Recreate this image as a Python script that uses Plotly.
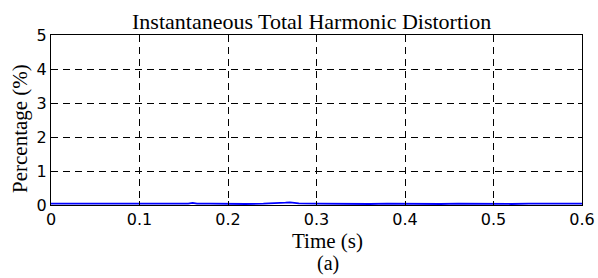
import plotly.graph_objects as go

time_s = [0.00, 0.02, 0.04, 0.06, 0.08, 0.10, 0.12, 0.14, 0.155, 0.16, 0.165, 0.18, 0.20, 0.22, 0.24, 0.26, 0.265, 0.27, 0.275, 0.28, 0.30, 0.32, 0.34, 0.36, 0.38, 0.40, 0.42, 0.44, 0.46, 0.48, 0.50, 0.52, 0.54, 0.56, 0.58, 0.60]
thd_pct = [0.04, 0.04, 0.03, 0.04, 0.03, 0.04, 0.03, 0.04, 0.04, 0.06, 0.04, 0.04, 0.03, 0.03, 0.04, 0.05, 0.07, 0.08, 0.06, 0.05, 0.04, 0.03, 0.04, 0.03, 0.04, 0.03, 0.04, 0.03, 0.04, 0.03, 0.04, 0.03, 0.04, 0.03, 0.04, 0.04]

x_ticks = [0, 0.1, 0.2, 0.3, 0.4, 0.5, 0.6]
x_tick_labels = ["0", "0.1", "0.2", "0.3", "0.4", "0.5", "0.6"]
y_ticks = [0, 1, 2, 3, 4, 5]
y_tick_labels = ["0", "1", "2", "3", "4", "5"]

W, H = 598, 278
L, R, T, B = 51, 16, 35, 73

serif = "Liberation Serif, Times New Roman, serif"
sans = "DejaVu Sans, Arial, sans-serif"

fig = go.Figure()
fig.add_trace(go.Scatter(x=time_s, y=thd_pct, mode="lines",
                         line=dict(color="#0000ff", width=1.8), showlegend=False))

axis_common = dict(showline=True, linecolor="black", linewidth=1.2, mirror="ticks",
                   ticks="inside", ticklen=4, tickcolor="black",
                   showgrid=True, gridcolor="black", griddash="7px,5px", gridwidth=1,
                   zeroline=False, automargin=False,
                   tickfont=dict(family=sans, size=16, color="black"))

fig.update_xaxes(range=[0, 0.6], tickvals=x_ticks, ticktext=x_tick_labels, **axis_common)
fig.update_yaxes(range=[0, 5], tickvals=y_ticks, ticktext=y_tick_labels, **axis_common)

PW = W - L - R
PH = H - T - B

fig.update_layout(
    width=W, height=H,
    margin=dict(l=L, r=R, t=T, b=B, autoexpand=False),
    paper_bgcolor="white", plot_bgcolor="white",
    annotations=[
        dict(text="Instantaneous Total Harmonic Distortion", xref="paper", yref="paper",
             x=(311 - L) / PW, y=(H - B - 21) / PH, xanchor="center", yanchor="middle",
             showarrow=False, font=dict(family=serif, size=22, color="black")),
        dict(text="Percentage (%)", xref="paper", yref="paper",
             x=(20 - L) / PW, y=(H - B - 129) / PH, xanchor="center", yanchor="middle",
             textangle=-90, showarrow=False, font=dict(family=serif, size=21, color="black")),
        dict(text="Time (s)", xref="paper", yref="paper",
             x=(327 - L) / PW, y=(H - B - 241) / PH, xanchor="center", yanchor="middle",
             showarrow=False, font=dict(family=serif, size=21, color="black")),
        dict(text="(a)", xref="paper", yref="paper",
             x=(328 - L) / PW, y=(H - B - 263) / PH, xanchor="center", yanchor="middle",
             showarrow=False, font=dict(family=serif, size=20, color="black")),
    ],
)

fig.write_html("out.html",
               config={"displayModeBar": False, "staticPlot": True},
               post_script="document.body.style.margin='0';document.body.style.padding='0';document.body.style.overflow='hidden';")
